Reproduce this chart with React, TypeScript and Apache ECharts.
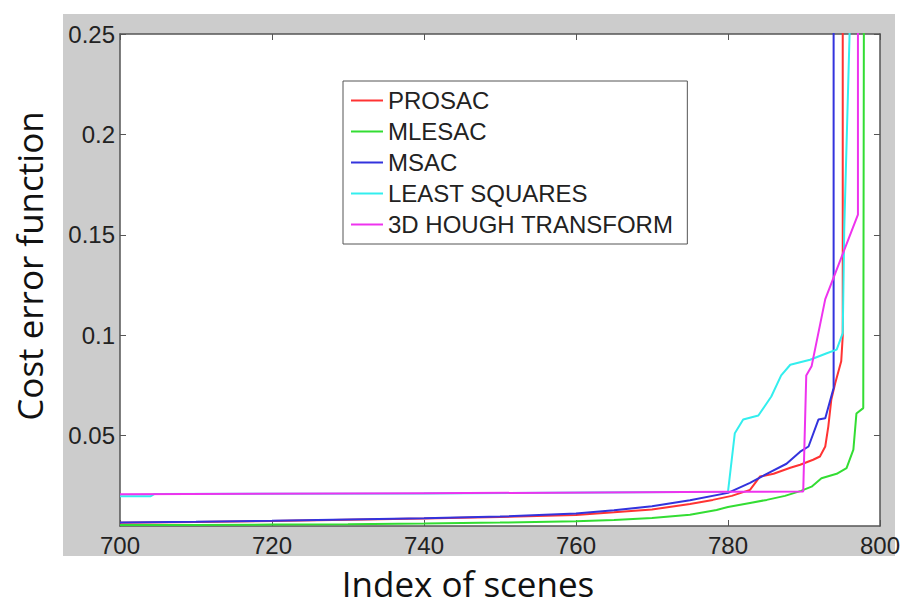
import React, { useEffect, useRef } from "react";
import * as echarts from "echarts";

const seriesNames = ["PROSAC", "MLESAC", "MSAC", "LEAST SQUARES", "3D HOUGH TRANSFORM"];
const seriesColors = ["#ff3333", "#33dd33", "#3333dd", "#33eeee", "#ee33ee"];

const yTickValues = [0.05, 0.1, 0.15, 0.2, 0.25];
const xTickInterval = 20;

const prosacX = [700, 710, 720, 730, 740, 750, 760, 765, 770, 775, 778, 780.5, 782.9, 784.2, 786, 788.2, 789.5, 791.2, 792.1, 792.8, 793.2, 793.6, 794.1, 794.9, 795.1, 795.1];
const prosacY = [0.0066, 0.007, 0.0075, 0.0081, 0.0087, 0.0095, 0.0105, 0.0118, 0.0132, 0.016, 0.018, 0.02, 0.023, 0.0296, 0.031, 0.034, 0.0355, 0.038, 0.0396, 0.0446, 0.0545, 0.068, 0.076, 0.087, 0.0995, 0.3];

const mlesacX = [700, 710, 720, 730, 740, 750, 760, 765, 770, 775, 778.5, 780, 782.9, 785.1, 787.5, 789.6, 791, 792.3, 794.3, 795.6, 796.5, 796.9, 797.8, 797.9];
const mlesacY = [0.0055, 0.0055, 0.0057, 0.0059, 0.0062, 0.0067, 0.0074, 0.008, 0.009, 0.0106, 0.013, 0.0145, 0.0165, 0.018, 0.02, 0.0225, 0.0246, 0.0288, 0.031, 0.0338, 0.043, 0.061, 0.0637, 0.3];

const msacX = [700, 710, 720, 730, 740, 750, 760, 765, 770, 775, 780, 782.9, 785.1, 787.7, 789.5, 790.6, 791.9, 792.8, 793.9, 793.9];
const msacY = [0.0068, 0.0071, 0.0076, 0.0082, 0.0088, 0.0097, 0.0112, 0.0128, 0.0148, 0.0178, 0.0215, 0.0265, 0.031, 0.036, 0.042, 0.0446, 0.058, 0.0587, 0.0737, 0.3];

const lsqX = [700, 704, 704.5, 740, 780, 780.9, 782, 784, 785.7, 787, 788.2, 790.8, 793, 794.3, 795.1, 795.3, 796, 796.2];
const lsqY = [0.0198, 0.0198, 0.0209, 0.0212, 0.022, 0.0512, 0.058, 0.06, 0.0695, 0.08, 0.0853, 0.0878, 0.091, 0.0928, 0.101, 0.153, 0.25, 0.3];

const houghX = [700, 740, 780, 789.9, 790.3, 791, 792.8, 797.1, 797.1];
const houghY = [0.0208, 0.0213, 0.022, 0.0222, 0.08, 0.0845, 0.118, 0.16, 0.3];

const allX = [prosacX, mlesacX, msacX, lsqX, houghX];
const allY = [prosacY, mlesacY, msacY, lsqY, houghY];

const zip = (xs: number[], ys: number[]) => xs.map((x, i) => [x, ys[i]]);

export default function App() {
  const ref = useRef<HTMLDivElement>(null);
  useEffect(() => {
    if (!ref.current) return;
    const chart = echarts.init(ref.current, null, { renderer: "svg" });
    const axisColor = "#555555";
    const labelFont = { fontFamily: "Liberation Sans, Arial, sans-serif", fontSize: 24, color: "#222222" };
    chart.setOption({
      animation: false,
      backgroundColor: "#ffffff",
      graphic: [
        { type: "rect", z: -10, shape: { x: 63, y: 14, width: 832, height: 542 }, style: { fill: "#cccccc" } },
        {
          type: "text", x: 468, y: 583, z: 10,
          style: { text: "Index of scenes", font: "35px 'Open Sans', sans-serif", fill: "#111", textAlign: "center", textVerticalAlign: "middle" },
        },
        {
          type: "text", x: 29, y: 266, rotation: Math.PI / 2, z: 10,
          style: { text: "Cost error function", font: "35px 'Open Sans', sans-serif", fill: "#111", textAlign: "center", textVerticalAlign: "middle" },
        },
      ],
      grid: { left: 120, right: 23, top: 34, bottom: 79, show: true, backgroundColor: "#ffffff", borderWidth: 0 },
      legend: {
        orient: "vertical", left: 343, top: 81,
        padding: [4, 14, 4, 8], itemGap: 0, itemWidth: 32, itemHeight: 2, itemTextGap: 6,
        icon: "rect", borderColor: "#555", borderWidth: 1, backgroundColor: "#fff",
        textStyle: { fontFamily: "Liberation Sans, Arial, sans-serif", fontSize: 24, color: "#222", lineHeight: 31 },
        data: seriesNames,
      },
      xAxis: [
        {
          type: "value", min: 700, max: 800, interval: xTickInterval, position: "bottom",
          axisLine: { show: true, lineStyle: { color: axisColor, width: 1.5 } },
          axisTick: { show: true, inside: true, length: 6, lineStyle: { color: axisColor } },
          axisLabel: { ...labelFont, margin: 7 },
          splitLine: { show: false },
        },
        {
          type: "value", min: 700, max: 800, interval: xTickInterval, position: "top",
          axisLine: { show: true, lineStyle: { color: axisColor, width: 1.5 } },
          axisTick: { show: true, inside: true, length: 6, lineStyle: { color: axisColor } },
          axisLabel: { show: false },
          splitLine: { show: false },
        },
      ],
      yAxis: [
        {
          type: "value", min: 0.005, max: 0.25, position: "left",
          axisLine: { show: true, lineStyle: { color: axisColor, width: 1.5 } },
          axisTick: { show: true, inside: true, length: 6, lineStyle: { color: axisColor }, customValues: yTickValues },
          axisLabel: { ...labelFont, margin: 5, customValues: yTickValues, formatter: (v: number) => String(+v.toFixed(2)) },
          splitLine: { show: false },
        },
        {
          type: "value", min: 0.005, max: 0.25, position: "right",
          axisLine: { show: true, lineStyle: { color: axisColor, width: 1.5 } },
          axisTick: { show: true, inside: true, length: 6, lineStyle: { color: axisColor }, customValues: yTickValues },
          axisLabel: { show: false },
          splitLine: { show: false },
        },
      ],
      series: seriesNames.map((name, i) => ({
        name, type: "line", xAxisIndex: 0, yAxisIndex: 0,
        data: zip(allX[i], allY[i]),
        showSymbol: false, symbol: "none", clip: true,
        color: seriesColors[i],
        lineStyle: { color: seriesColors[i], width: 2 },
      })),
    });
    return () => chart.dispose();
  }, []);
  return <div ref={ref} style={{ position: "absolute", left: 0, top: 0, width: 903, height: 605 }} />;
}
